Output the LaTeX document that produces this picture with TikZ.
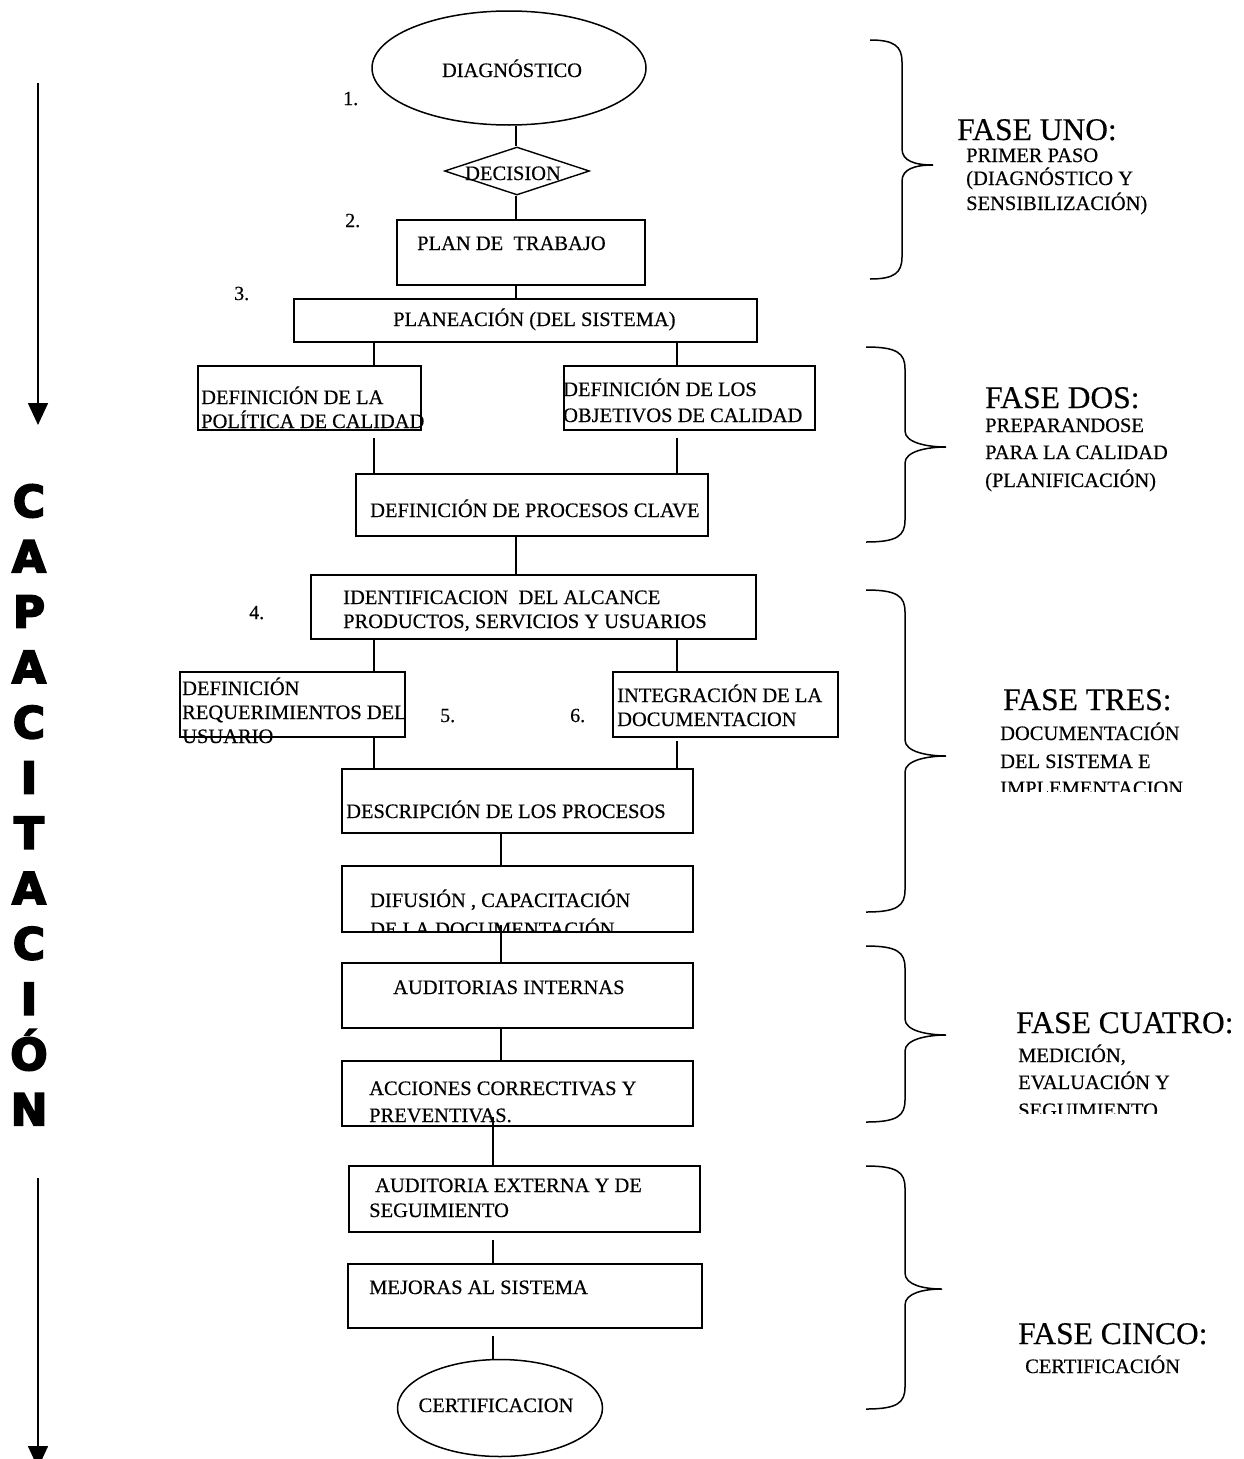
\documentclass[tikz,border=0pt]{standalone}
\usepackage{fontspec}
\setmainfont{Liberation Serif}[UprightFeatures={FakeBold=0.4}]
\newfontfamily\heavy{DejaVu Sans}[BoldFeatures={FakeBold=4}]
\usetikzlibrary{shapes.geometric,arrows.meta,calc,fit}

\tikzset{
  box/.style={draw=black, line width=1.9pt, rectangle, inner sep=0pt},
  oval/.style={draw=black, line width=1.5pt, ellipse, inner sep=0pt},
  rhomb/.style={draw=black, line width=1.4pt, diamond, inner sep=0pt},
  link/.style={draw=black, line width=1.1pt},
  boxtext/.style={inner sep=0pt, anchor=base west, font=\fontsize{20.5}{24}\selectfont},
  ctext/.style={inner sep=0pt, anchor=base, font=\fontsize{20.5}{24}\selectfont},
  numtext/.style={inner sep=0pt, anchor=base west, font=\fontsize{20}{24}\selectfont},
  phase/.style={inner sep=0pt, anchor=base west, font=\fontsize{31.5}{36}\selectfont},
  phasesub/.style={inner sep=0pt, anchor=base west, font=\fontsize{20.5}{24}\selectfont},
  capletter/.style={inner sep=0pt, anchor=base, font=\heavy\bfseries\fontsize{44}{48}\selectfont},
  timeline/.style={draw=black, line width=1.6pt, -{Triangle[width=20pt,length=22pt]}},
  bracestyle/.style={draw=black, line width=1.5pt},
}

% curly brace: left end x, spine x, tip x, top y, tip y, bottom y
\newcommand\phasebrace[6]{%
  \draw[bracestyle] (#1,#4) .. controls ({#2-8},#4) and (#2,{#4+6}) .. (#2,{#4+22})
    -- (#2,{#5-16}) .. controls (#2,{#5-4}) and ({#3-18},#5) .. (#3,#5)
    .. controls ({#3-18},#5) and (#2,{#5+4}) .. (#2,{#5+16})
    -- (#2,{#6-22}) .. controls (#2,{#6-6}) and ({#2-8},#6) .. (#1,#6);}

\begin{document}
\begin{tikzpicture}[x=1pt,y=-1pt]
\useasboundingbox[fill=white] (0,0) rectangle (1244,1459);

% ---- flow chart ----
\node[oval, minimum width=274pt, minimum height=114pt] (diag) at (509,68) {};
\node[ctext] (diagT) at (512,77) {DIAGNÓSTICO};
\node[numtext] (n1) at (343,105) {1.};

\node[rhomb, minimum width=145pt, minimum height=48pt] (dec) at (517,171) {};
\node[ctext] (decT) at (513,180) {DECISION};
\node[numtext] (n2) at (345,227) {2.};

\node[box, fit={(397,220) (645,285)}] (plan) {};
\node[boxtext] (planT) at (417,250) {PLAN DE\ \ TRABAJO};
\node[numtext] (n3) at (234,300) {3.};

\node[box, fit={(294,299) (757,342)}] (plane) {};
\node[boxtext] (planeT) at (393,326) {PLANEACIÓN (DEL SISTEMA)};

\node[box, fit={(198,366) (421,430)}] (defpol) {};
\node[boxtext] (defpolA) at (201,404) {DEFINICIÓN DE LA};
\node[boxtext] (defpolB) at (201,428) {POLÍTICA DE CALIDAD};

\node[box, fit={(564,366) (815,430)}] (defobj) {};
\node[boxtext] (defobjA) at (563,396) {DEFINICIÓN DE LOS};
\node[boxtext] (defobjB) at (563,422) {OBJETIVOS DE CALIDAD};

\node[box, fit={(356,474) (708,536)}] (proc) {};
\node[boxtext] (procT) at (370,517) {DEFINICIÓN DE PROCESOS CLAVE};

\node[numtext] (n4) at (249,619) {4.};
\node[box, fit={(311,575) (756,639)}] (ident) {};
\node[boxtext] (identA) at (343,604) {IDENTIFICACION\ \ DEL ALCANCE};
\node[boxtext] (identB) at (343,628) {PRODUCTOS, SERVICIOS Y USUARIOS};

\node[box, fit={(180,672) (405,737)}] (req) {};
\node[boxtext] (reqA) at (182,695) {DEFINICIÓN};
\node[boxtext] (reqB) at (182,719) {REQUERIMIENTOS DEL};
\node[boxtext] (reqC) at (182,743) {USUARIO};
\node[numtext] (n5) at (440,722) {5.};
\node[numtext] (n6) at (570,722) {6.};

\node[box, fit={(613,672) (838,737)}] (integ) {};
\node[boxtext] (integA) at (617,702) {INTEGRACIÓN DE LA};
\node[boxtext] (integB) at (617,726) {DOCUMENTACION};

\node[box, fit={(342,769) (693,833)}] (desc) {};
\node[boxtext] (descT) at (346,818) {DESCRIPCIÓN DE LOS PROCESOS};

\node[box, fit={(342,866) (693,932)}] (dif) {};
\node[boxtext] (difA) at (370,907) {DIFUSIÓN , CAPACITACIÓN};
\begin{scope}
  \clip (342,866) rectangle (693,930);
  \node[boxtext] (difB) at (370,936) {DE LA DOCUMENTACIÓN};
\end{scope}

\node[box, fit={(342,963) (693,1028)}] (audint) {};
\node[boxtext] (audintT) at (393,994) {AUDITORIAS INTERNAS};

\node[box, fit={(342,1061) (693,1126)}] (acc) {};
\node[boxtext] (accA) at (369,1095) {ACCIONES CORRECTIVAS Y};
\node[boxtext] (accB) at (369,1122) {PREVENTIVAS.};

\node[box, fit={(349,1166) (700,1232)}] (audext) {};
\node[boxtext] (audextA) at (375,1192) {AUDITORIA EXTERNA Y DE};
\node[boxtext] (audextB) at (369,1217) {SEGUIMIENTO};

\node[box, fit={(348,1264) (702,1328)}] (mej) {};
\node[boxtext] (mejT) at (369,1294) {MEJORAS AL SISTEMA};

\node[oval, minimum width=205pt, minimum height=97pt] (cert) at (500,1408) {};
\node[ctext] (certT) at (496,1412) {CERTIFICACION};

% ---- connectors ----
\coordinate (cA) at (516,0);
\coordinate (cL) at (374,0);
\coordinate (cR) at (677,0);
\coordinate (cB) at (501,0);
\coordinate (cC) at (493,0);

\draw[link] (cA |- diag.south) -- (cA |- dec.north);
\draw[link] (cA |- dec.south) -- (cA |- plan.north);
\draw[link] (cA |- plan.south) -- (cA |- plane.north);
\draw[link] (cL |- plane.south) -- (cL |- defpol.north);
\draw[link] (cR |- plane.south) -- (cR |- defobj.north);
\draw[link] ($(cL |- defpol.south)+(0,7)$) -- (cL |- proc.north);
\draw[link] ($(cR |- defobj.south)+(0,7)$) -- (cR |- proc.north);
\draw[link] (cA |- proc.south) -- (cA |- ident.north);
\draw[link] (cL |- ident.south) -- (cL |- req.north);
\draw[link] (cR |- ident.south) -- (cR |- integ.north);
\draw[link] (cL |- req.south) -- (cL |- desc.north);
\draw[link] ($(cR |- integ.south)+(0,3)$) -- (cR |- desc.north);
\draw[link] (cB |- desc.south) -- (cB |- dif.north);
\draw[link] ($(cB |- dif.south)+(0,-8)$) -- (cB |- audint.north);
\draw[link] (cB |- audint.south) -- (cB |- acc.north);
\draw[link] ($(cC |- acc.south)+(0,-10)$) -- (cC |- audext.north);
\draw[link] ($(cC |- audext.south)+(0,7)$) -- (cC |- mej.north);
\draw[link] ($(cC |- mej.south)+(0,7)$) -- (cC |- cert.north);

% ---- training axis on the left ----
\coordinate (arA1) at (38,83);
\coordinate (arA2) at (38,425);
\coordinate (arB1) at (38,1178);
\coordinate (arB2) at (38,1468);
\draw[timeline] (arA1) -- (arA2);
\draw[timeline] (arB1) -- (arB2);
\foreach \ch [count=\i] in {C,A,P,A,C,I,T,A,C,I,Ó,N}
  \node[capletter] (cap\i) at (29,{517+55.3*(\i-1)}) {\ch};

% ---- phase braces and labels ----
\phasebrace{870}{902}{933}{40}{165}{279}
\node[phase] (f1) at (957,140) {FASE UNO:};
\node[phasesub] (f1a) at (966,162) {PRIMER PASO};
\node[phasesub] (f1b) at (966,185) {(DIAGNÓSTICO Y};
\node[phasesub] (f1c) at (966,210) {SENSIBILIZACIÓN)};

\phasebrace{866}{905}{946}{347}{447}{542}
\node[phase] (f2) at (985,408) {FASE DOS:};
\node[phasesub] (f2a) at (985,432) {PREPARANDOSE};
\node[phasesub] (f2b) at (985,459) {PARA LA CALIDAD};
\node[phasesub] (f2c) at (985,487) {(PLANIFICACIÓN)};

\phasebrace{866}{905}{946}{590}{756}{912}
\node[phase] (f3) at (1003,710) {FASE TRES:};
\node[phasesub] (f3a) at (1000,740) {DOCUMENTACIÓN};
\node[phasesub] (f3b) at (1000,768) {DEL SISTEMA E};
\begin{scope}
  \clip (990,770) rectangle (1244,791);
  \node[phasesub] (f3c) at (1000,795) {IMPLEMENTACION};
\end{scope}

\phasebrace{866}{905}{946}{946}{1035}{1122}
\node[phase] (f4) at (1016,1033) {FASE CUATRO:};
\node[phasesub] (f4a) at (1018,1062) {MEDICIÓN,};
\node[phasesub] (f4b) at (1018,1089) {EVALUACIÓN Y};
\begin{scope}
  \clip (1010,1092) rectangle (1244,1113);
  \node[phasesub] (f4c) at (1018,1117) {SEGUIMIENTO};
\end{scope}

\phasebrace{866}{905}{942}{1166}{1289}{1409}
\node[phase] (f5) at (1018,1344) {FASE CINCO:};
\node[phasesub] (f5a) at (1025,1373) {CERTIFICACIÓN};
\end{tikzpicture}
\end{document}
